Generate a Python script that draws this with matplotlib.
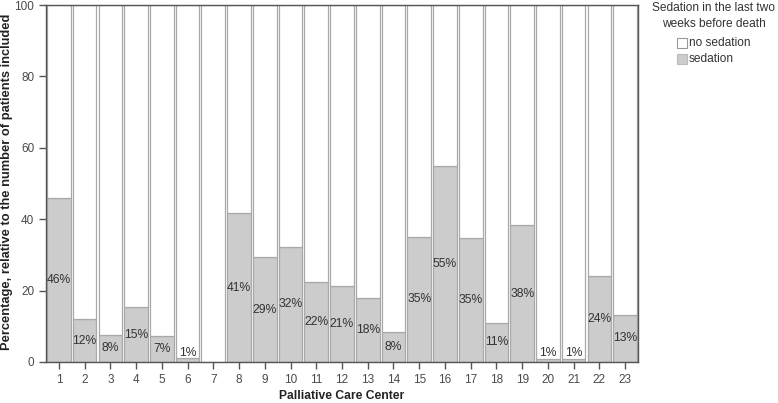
import matplotlib.pyplot as plt
import matplotlib.patches as mpatches
import numpy as np

plt.rcParams['font.family'] = ['Liberation Sans', 'DejaVu Sans']

# 各中心的镇静比例（%）
centers = [str(i) for i in range(1, 24)]
sedation = [45.9, 12.0, 7.6, 15.4, 7.4, 1.0, 0.0, 41.6, 29.4, 32.3, 22.5, 21.2, 18.0,
            8.3, 35.1, 54.8, 34.7, 11.0, 38.3, 0.9, 0.9, 24.0, 13.2]
labels = ['46%', '12%', '8%', '15%', '7%', '1%', '', '41%', '29%', '32%', '22%', '21%',
          '18%', '8%', '35%', '55%', '35%', '11%', '38%', '1%', '1%', '24%', '13%']
legend_title = ['Sedation in the last two', 'weeks before death']
legend_names = ['no sedation', 'sedation']

sed = np.array(sedation)
no_sed = 100 - sed
x = np.arange(len(centers))

W, H = 778, 403
fig = plt.figure(figsize=(W / 100, H / 100), dpi=100)
ax = fig.add_axes([46 / W, 1 - 362 / H, 592 / W, 357 / H])

grey = '#cccccc'
edge = '#a9a9a9'
ax.bar(x, sed, width=0.92, color=grey, edgecolor=edge, linewidth=0.9)
ax.bar(x, no_sed, bottom=sed, width=0.92, color='white', edgecolor=edge, linewidth=0.9)

# 百分比标签放在镇静部分中间
for xi, s, lab in zip(x, sed, labels):
    if not lab:
        continue
    ypos = max(s / 2, 2.6)
    ax.text(xi, ypos, lab, ha='center', va='center', fontsize=8.7, color='#333333')

ax.set_xlim(-0.5, len(centers) - 0.5)
ax.set_ylim(0, 100)
ax.set_xticks(x)
ax.set_xticklabels(centers)
ax.set_yticks([0, 20, 40, 60, 80, 100])
ax.tick_params(axis='both', colors='#555555', labelsize=8.5, length=5, width=1)
ax.tick_params(axis='both', labelcolor='#4a4a4a')
for sp in ax.spines.values():
    sp.set_color('#555555')
    sp.set_linewidth(1)

ax.set_xlabel('Palliative Care Center', fontsize=8.7, fontweight='bold', color='#222222', labelpad=3)
fig.text(7 / W, 1 - 182 / H, 'Percentage, relative to the number of patients included',
         rotation=90, ha='center', va='center', fontsize=9.3, fontweight='bold', color='#222222')

# 图例（手工放置）
fig.text(714 / W, 1 - 8 / H, legend_title[0], ha='center', va='center', fontsize=8.6, color='#333333')
fig.text(714 / W, 1 - 24 / H, legend_title[1], ha='center', va='center', fontsize=8.6, color='#333333')
for i, (name, fc, ec) in enumerate(zip(legend_names, ['white', grey], ['#999999', '#bbbbbb'])):
    yc = 43 + i * 16
    fig.patches.append(mpatches.Rectangle((677 / W, 1 - (yc + 5) / H), 10 / W, 10 / H,
                                          transform=fig.transFigure, facecolor=fc,
                                          edgecolor=ec, linewidth=0.8))
    fig.text(689 / W, 1 - yc / H, name, ha='left', va='center', fontsize=8.6, color='#333333')

fig.savefig('out.png', dpi=100)
